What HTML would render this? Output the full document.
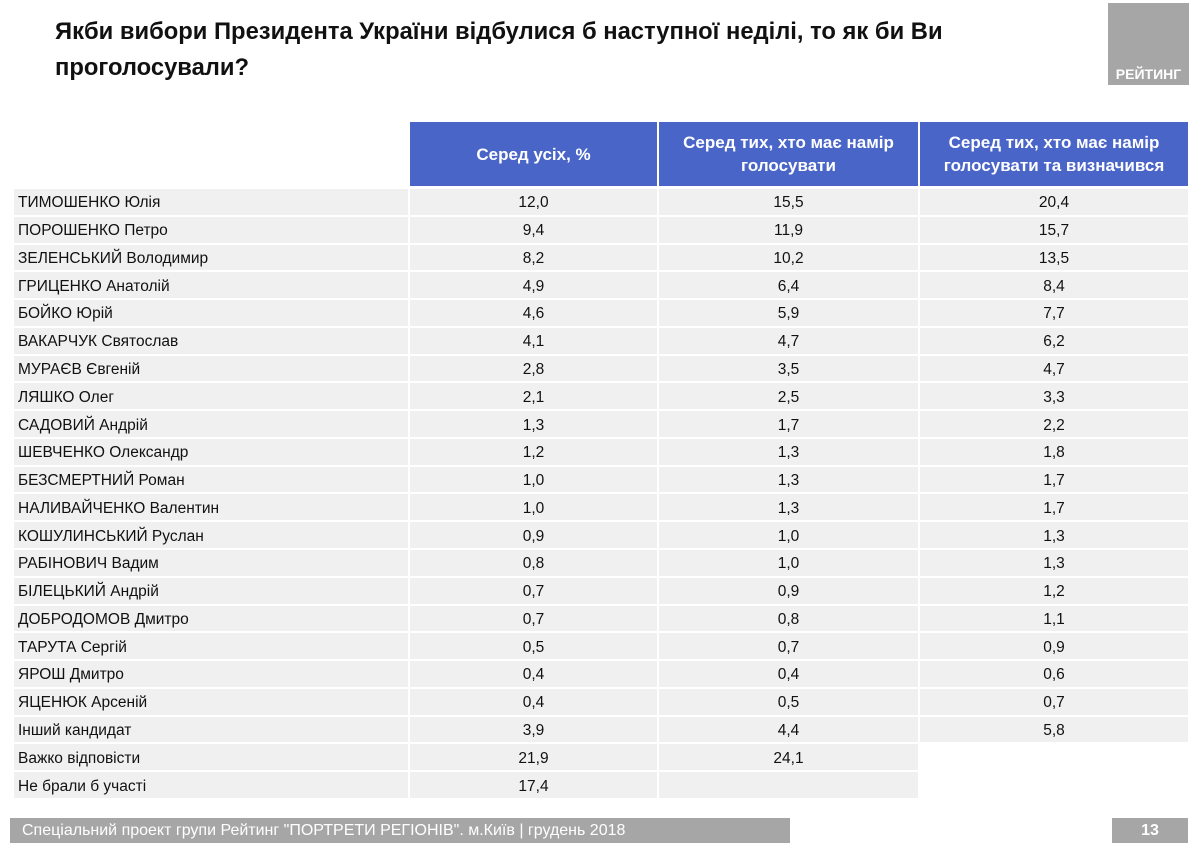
<!DOCTYPE html>
<html><head><meta charset="utf-8">
<style>
body{margin:0;width:1198px;height:847px;background:#fff;position:relative;overflow:hidden;font-family:"Liberation Sans","DejaVu Sans",sans-serif;}
.abs{position:absolute;}
#title{left:55px;top:14px;font-size:24px;font-weight:bold;line-height:36px;color:#111;transform:scaleX(0.99);transform-origin:left top;white-space:nowrap;}
#logo{left:1108px;top:3px;width:81px;height:82px;background:#a6a6a6;}
#logo span{position:absolute;bottom:3px;left:0;right:0;text-align:center;color:#fff;font-weight:bold;font-size:14px;}
.hd{background:#4a65c8;color:#fff;font-weight:bold;font-size:17px;display:flex;align-items:center;justify-content:center;text-align:center;line-height:23px;top:122px;height:64px;}
.cell{background:#f0f0f0;font-size:15.5px;color:#111;display:flex;align-items:center;padding-top:3px;box-sizing:border-box;}
.num{justify-content:center;}
.nm{padding-left:4px;}
#foot{left:10px;top:818px;width:780px;height:25px;background:#a6a6a6;color:#fff;font-size:16px;line-height:25px;padding-left:12px;box-sizing:border-box;}
#pg{left:1112px;top:818px;width:76px;height:25px;background:#a6a6a6;color:#fff;font-weight:bold;font-size:16px;line-height:25px;text-align:center;}
</style></head>
<body>
<div id="title" class="abs">Якби вибори Президента України відбулися б наступної неділі, то як би Ви<br>проголосували?</div>
<div id="logo" class="abs"><span>РЕЙТИНГ</span></div>
<div class="abs hd" style="left:410px;width:247px;">Серед усіх, %</div>
<div class="abs hd" style="left:659px;width:259px;">Серед тих, хто має намір<br>голосувати</div>
<div class="abs hd" style="left:920px;width:268px;">Серед тих, хто має намір<br>голосувати та визначився</div>
<div id="table"></div>
<div id="foot" class="abs">Спеціальний проект групи Рейтинг "ПОРТРЕТИ РЕГІОНІВ". м.Київ | грудень 2018</div>
<div id="pg" class="abs">13</div>
<script>
const candidates=["ТИМОШЕНКО Юлія","ПОРОШЕНКО Петро","ЗЕЛЕНСЬКИЙ Володимир","ГРИЦЕНКО Анатолій","БОЙКО Юрій","ВАКАРЧУК Святослав","МУРАЄВ Євгеній","ЛЯШКО Олег","САДОВИЙ Андрій","ШЕВЧЕНКО Олександр","БЕЗСМЕРТНИЙ Роман","НАЛИВАЙЧЕНКО Валентин","КОШУЛИНСЬКИЙ Руслан","РАБІНОВИЧ Вадим","БІЛЕЦЬКИЙ Андрій","ДОБРОДОМОВ Дмитро","ТАРУТА Сергій","ЯРОШ Дмитро","ЯЦЕНЮК Арсеній","Інший кандидат","Важко відповісти","Не брали б участі"];
const allVoters=[12.0,9.4,8.2,4.9,4.6,4.1,2.8,2.1,1.3,1.2,1.0,1.0,0.9,0.8,0.7,0.7,0.5,0.4,0.4,3.9,21.9,17.4];
const intendVoters=[15.5,11.9,10.2,6.4,5.9,4.7,3.5,2.5,1.7,1.3,1.3,1.3,1.0,1.0,0.9,0.8,0.7,0.4,0.5,4.4,24.1,null];
const decidedVoters=[20.4,15.7,13.5,8.4,7.7,6.2,4.7,3.3,2.2,1.8,1.7,1.7,1.3,1.3,1.2,1.1,0.9,0.6,0.7,5.8,null,null];
const tbl=document.getElementById('table');
const cols=[{x:14,w:394},{x:410,w:247},{x:659,w:259},{x:920,w:268}];
const top0=189,rh=27.77;
function fmt(v){return v.toFixed(1).replace('.',',');}
function cell(ci,ri,text,isNum){
  const d=document.createElement('div');
  d.className='abs cell '+(isNum?'num':'nm');
  d.style.left=cols[ci].x+'px';d.style.width=cols[ci].w+'px';
  d.style.top=(top0+ri*rh)+'px';d.style.height=(rh-2)+'px';
  d.textContent=text;
  return d;
}
candidates.forEach((c,i)=>{
  let d=cell(0,i,c,false);
  
  
  tbl.appendChild(d);
  const series=[allVoters,intendVoters,decidedVoters];
  series.forEach((s,j)=>{
    if(s[i]===null){
      if(j===1&&allVoters[i]!==null){
        let e=cell(2,i,'',true);
        
        
        tbl.appendChild(e);
      }
      return;
    }
    let e=cell(j+1,i,fmt(s[i]),true);
    
    
    tbl.appendChild(e);
  });
});
</script>
</body></html>
